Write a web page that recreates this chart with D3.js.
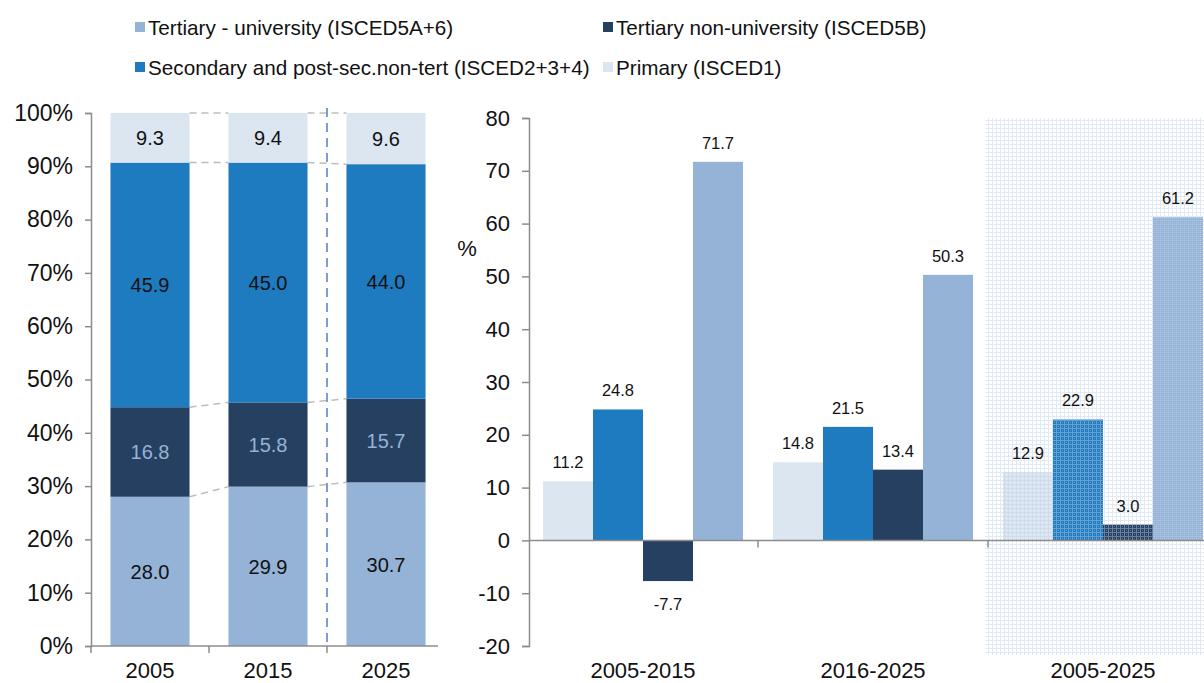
<!DOCTYPE html>
<html lang="en">
<head>
<meta charset="utf-8">
<title>Education levels</title>
<script src="https://d3js.org/d3.v7.min.js"></script>
<style>
  body { margin: 0; background: #fff; }
  svg text { font-family: "Liberation Sans", Arial, sans-serif; }
</style>
</head>
<body>
<script>
// data
var years = ["2005", "2015", "2025"];
var periods = ["2005-2015", "2016-2025", "2005-2025"];
var seriesNames = ["Tertiary - university (ISCED5A+6)", "Tertiary non-university (ISCED5B)",
  "Secondary and post-sec.non-tert (ISCED2+3+4)", "Primary (ISCED1)"];
// shares, bottom to top: tertiary uni, tertiary non-uni, secondary, primary
var tertUniShare = [28.0, 29.9, 30.7];
var tertNonShare = [16.8, 15.8, 15.7];
var secondaryShare = [45.9, 45.0, 44.0];
var primaryShare = [9.3, 9.4, 9.6];
// growth, per period
var primaryGrowth = [11.2, 14.8, 12.9];
var secondaryGrowth = [24.8, 21.5, 22.9];
var tertNonGrowth = [-7.7, 13.4, 3.0];
var tertUniGrowth = [71.7, 50.3, 61.2];
var leftTicks = [0, 10, 20, 30, 40, 50, 60, 70, 80, 90, 100];
var rightTicks = [-20, -10, 0, 10, 20, 30, 40, 50, 60, 70, 80];

var colors = {
  tertUni: "#95b3d7",
  tertNon: "#254061",
  secondary: "#1f7bbf",
  primary: "#dce6f1"
};
var axisColor = "#8c8c8c";

var w = 1204, h = 683;
var svg = d3.select("body").append("svg").attr("width", w).attr("height", h);

// pattern for the highlighted period
var defs = svg.append("defs");
var pat = defs.append("pattern").attr("id", "dots")
  .attr("width", 4).attr("height", 4).attr("patternUnits", "userSpaceOnUse");
pat.append("rect").attr("x", 0).attr("y", 0).attr("width", 4).attr("height", 1)
  .attr("fill", "#bccfea").attr("fill-opacity", 0.45);
pat.append("rect").attr("x", 0).attr("y", 1).attr("width", 1).attr("height", 3)
  .attr("fill", "#bccfea").attr("fill-opacity", 0.45);
pat.append("rect").attr("x", 2).attr("y", 2).attr("width", 1).attr("height", 1)
  .attr("fill", "#ffffff").attr("fill-opacity", 0.3);

// legend
var legendPos = [[135, 27], [603, 27], [135, 67], [603, 67]];
var legendColors = [colors.tertUni, colors.tertNon, colors.secondary, colors.primary];
var legend = svg.append("g").selectAll("g").data(seriesNames).enter().append("g")
  .attr("transform", function(d, i) { return "translate(" + legendPos[i][0] + "," + legendPos[i][1] + ")"; });
legend.append("rect").attr("x", 0).attr("y", -5).attr("width", 10).attr("height", 10)
  .attr("fill", function(d, i) { return legendColors[i]; });
legend.append("text").attr("x", 13).attr("y", 7.5).attr("font-size", 20.7).attr("fill", "#111")
  .text(function(d) { return d; });

// ---------- left chart: stacked shares ----------
var lx = d3.scaleBand().domain(years).range([91, 445]).paddingInner(0.33).paddingOuter(0.165);
var ly = d3.scaleLinear().domain([0, 100]).range([646, 113]);

var stackKeys = ["tertUni", "tertNon", "secondary", "primary"];
var shareRows = years.map(function(y, i) {
  return { year: y, tertUni: tertUniShare[i], tertNon: tertNonShare[i], secondary: secondaryShare[i], primary: primaryShare[i] };
});
var stacked = d3.stack().keys(stackKeys)(shareRows);

var left = svg.append("g");

// dashed connectors between bars
stacked.forEach(function(layer) {
  for (var i = 0; i < years.length - 1; i++) {
    left.append("line")
      .attr("x1", lx(years[i]) + lx.bandwidth()).attr("x2", lx(years[i + 1]))
      .attr("y1", ly(Math.min(layer[i][1], 100))).attr("y2", ly(Math.min(layer[i + 1][1], 100)))
      .attr("stroke", "#bdbdbd").attr("stroke-width", 1.5).attr("stroke-dasharray", "7,5");
  }
});

left.selectAll("g.layer").data(stacked).enter().append("g").attr("class", "layer")
  .attr("fill", function(d) { return colors[d.key]; })
  .selectAll("rect").data(function(d) { return d; }).enter().append("rect")
  .attr("x", function(d) { return lx(d.data.year); })
  .attr("width", lx.bandwidth())
  .attr("y", function(d) { return ly(Math.min(d[1], 100)); })
  .attr("height", function(d) { return ly(d[0]) - ly(Math.min(d[1], 100)); });

left.selectAll("g.lab").data(stacked).enter().append("g").attr("class", "lab")
  .selectAll("text").data(function(d) { return d.map(function(p) { p.key = d.key; return p; }); })
  .enter().append("text")
  .attr("x", function(d) { return lx(d.data.year) + lx.bandwidth() / 2; })
  .attr("y", function(d) { return (ly(d[0]) + ly(Math.min(d[1], 100))) / 2 + 7.5; })
  .attr("text-anchor", "middle").attr("font-size", 20)
  .attr("fill", function(d) { return d.key === "tertNon" ? "#95b3d7" : "#111"; })
  .text(function(d) { return d.data[d.key].toFixed(1); });

// vertical projection divider
var divX = lx("2025") - lx.step() * lx.paddingInner() / 2;
left.append("line").attr("x1", divX).attr("x2", divX).attr("y1", 108).attr("y2", 646)
  .attr("stroke", "#4f81bd").attr("stroke-width", 1.5).attr("stroke-dasharray", "9,6");

// left axes
var lyAxis = d3.axisLeft(ly).tickValues(leftTicks).tickFormat(function(d) { return d + "%"; }).tickSize(6).tickPadding(12);
var gly = svg.append("g").attr("transform", "translate(91,0)").call(lyAxis);
gly.selectAll("text").attr("font-size", 23).attr("fill", "#111").attr("font-family", "Liberation Sans, Arial, sans-serif");

svg.append("line").attr("x1", 91).attr("x2", 438).attr("y1", 646).attr("y2", 646).attr("stroke", axisColor).attr("stroke-width", 1.5);
years.forEach(function(y, i) {
  var bx = lx(y) - lx.step() * lx.paddingInner() / 2;
  if (i === 0) bx = 91;
  svg.append("line").attr("x1", bx).attr("x2", bx).attr("y1", 646).attr("y2", 653).attr("stroke", axisColor).attr("stroke-width", 1.5);
  svg.append("text").attr("x", lx(y) + lx.bandwidth() / 2).attr("y", 678)
    .attr("text-anchor", "middle").attr("font-size", 22).attr("fill", "#111").text(y);
});

// ---------- right chart: growth ----------
var rx0 = d3.scaleBand().domain(periods).range([528, 1218]);
var rx1 = d3.scaleBand().domain(["primary", "secondary", "tertNon", "tertUni"]).range([15, rx0.bandwidth() - 15]);
var ry = d3.scaleLinear().domain([-20, 80]).range([646, 118]);

var growthRows = periods.map(function(p, i) {
  return [
    { period: p, key: "primary", value: primaryGrowth[i] },
    { period: p, key: "secondary", value: secondaryGrowth[i] },
    { period: p, key: "tertNon", value: tertNonGrowth[i] },
    { period: p, key: "tertUni", value: tertUniGrowth[i] }
  ];
});

var right = svg.append("g");
var groups = right.selectAll("g.grp").data(growthRows).enter().append("g").attr("class", "grp")
  .attr("transform", function(d, i) { return "translate(" + rx0(periods[i]) + ",0)"; });

groups.selectAll("rect").data(function(d) { return d; }).enter().append("rect")
  .attr("x", function(d) { return rx1(d.key); })
  .attr("width", rx1.bandwidth())
  .attr("y", function(d) { return ry(Math.max(0, d.value)); })
  .attr("height", function(d) { return Math.abs(ry(d.value) - ry(0)); })
  .attr("fill", function(d) { return colors[d.key]; });

// highlight last period
right.append("rect").attr("x", 985).attr("y", 118).attr("width", w - 985).attr("height", 537)
  .attr("fill", "url(#dots)");

// value labels above the pattern
var labelGroups = right.selectAll("g.vlab").data(growthRows).enter().append("g").attr("class", "vlab")
  .attr("transform", function(d, i) { return "translate(" + rx0(periods[i]) + ",0)"; });
labelGroups.selectAll("text").data(function(d) { return d; }).enter().append("text")
  .attr("x", function(d) { return rx1(d.key) + rx1.bandwidth() / 2; })
  .attr("y", function(d) { return d.value >= 0 ? ry(d.value) - 13 : ry(d.value) + 29; })
  .attr("text-anchor", "middle").attr("font-size", 16.5).attr("fill", "#111")
  .text(function(d) { return d.value.toFixed(1); });

// right axes
var ryAxis = d3.axisLeft(ry).tickValues(rightTicks).tickFormat(function(d) { return String(d); }).tickSize(7).tickPadding(12);
var gry = svg.append("g").attr("transform", "translate(529,0)").call(ryAxis);
gry.selectAll("text").attr("font-size", 22).attr("fill", "#111").attr("font-family", "Liberation Sans, Arial, sans-serif");

svg.append("line").attr("x1", 529).attr("x2", w).attr("y1", ry(0)).attr("y2", ry(0)).attr("stroke", axisColor).attr("stroke-width", 1.5);
periods.forEach(function(p, i) {
  if (i > 0) {
    svg.append("line").attr("x1", rx0(p)).attr("x2", rx0(p)).attr("y1", ry(0)).attr("y2", ry(0) + 7)
      .attr("stroke", axisColor).attr("stroke-width", 1.5);
  }
  svg.append("text").attr("x", rx0(p) + rx0.bandwidth() / 2).attr("y", 678)
    .attr("text-anchor", "middle").attr("font-size", 22).attr("fill", "#111").text(p);
});

svg.append("text").attr("x", 467).attr("y", 256).attr("text-anchor", "middle")
  .attr("font-size", 22).attr("fill", "#111").text("%");

// axis styling
svg.selectAll(".domain").attr("stroke", axisColor).attr("stroke-width", 1.5);
svg.selectAll(".tick line").attr("stroke", axisColor).attr("stroke-width", 1.5);
</script>
</body>
</html>
